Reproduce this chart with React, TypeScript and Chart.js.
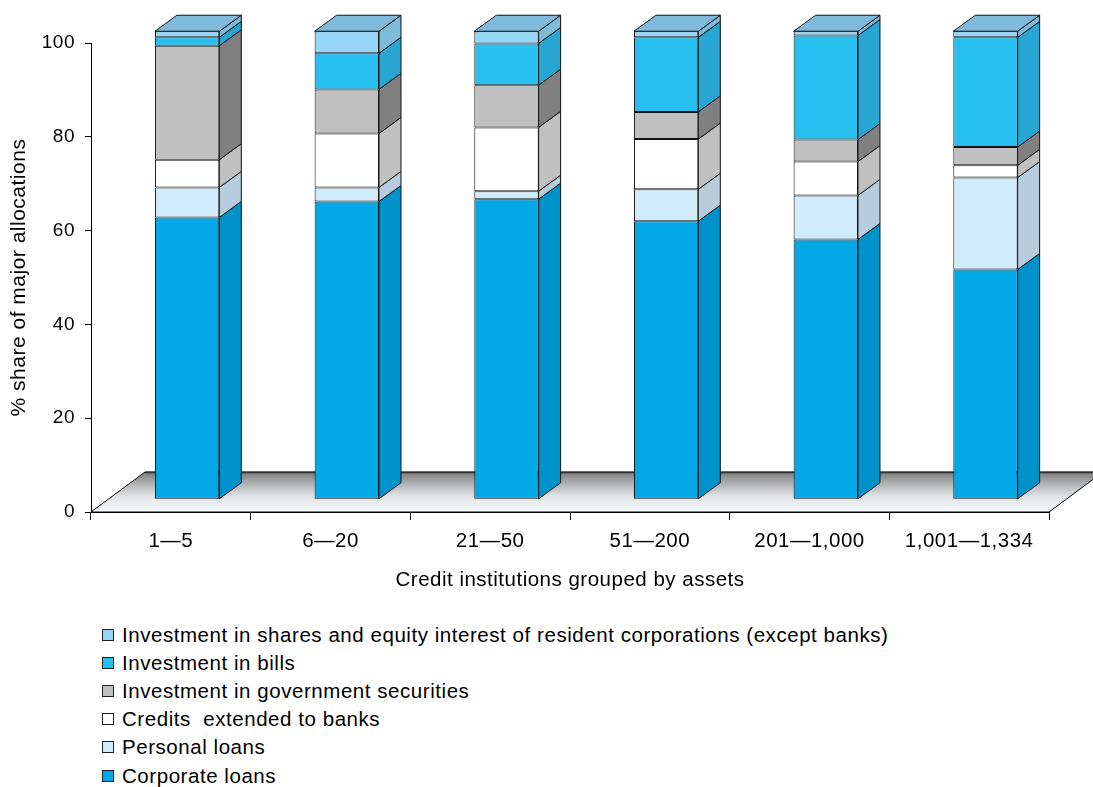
import React, { useEffect, useRef } from 'react';
import { Chart, registerables } from 'chart.js';

Chart.register(...registerables);

// ---- data ----
const categories = ['1\u20145', '6\u201420', '21\u201450', '51\u2014200', '201\u20141,000', '1,001\u20141,334'];
const corporateLoans = [60.1, 63.5, 64.0, 59.3, 55.4, 49.0];
const personalLoans = [6.4, 3.0, 1.7, 6.8, 9.4, 19.6];
const creditsToBanks = [5.9, 11.5, 13.6, 10.7, 7.2, 2.6];
const govSecurities = [24.3, 9.4, 9.0, 5.8, 4.7, 3.9];
const bills = [1.8, 7.7, 8.9, 15.9, 22.2, 23.4];
const shares = [1.3, 4.7, 2.6, 1.3, 0.9, 1.3];
const yTicks = [0, 20, 40, 60, 80, 100];

const seriesNames = [
  'Corporate loans',
  'Personal loans',
  'Credits  extended to banks',
  'Investment in government securities',
  'Investment in bills',
  'Investment in shares and equity interest of resident corporations (except banks)',
];
const seriesValues = [corporateLoans, personalLoans, creditsToBanks, govSecurities, bills, shares];
const frontColors = ['#00A8E8', '#D0EBFB', '#FFFFFF', '#C0C0C0', '#27BFEF', '#95D5F7'];
const sideColors = ['#0093CB', '#B5CDDF', '#C0C0C0', '#808080', '#27A6D3', '#80BAD9'];
const topColor = '#7FBADA';

const FONT = '"Liberation Sans", Arial, Helvetica, sans-serif';

const SHIFT_X = 16.3;
const SHIFT_Y = 12.7;
const BAR_DX = 22;
const BAR_DY = 16;
const FLOOR_DX = 54;
const FLOOR_DY = 40;

const spacing = {
  id: 'spacing',
  beforeDraw(chart: any) {
    (chart.ctx as any).letterSpacing = '0.5px';
  },
};

const bars3d = {
  id: 'bars3d',
  beforeDatasetsDraw(chart: any) {
    const { ctx, chartArea, scales } = chart;
    const y0 = scales.y.getPixelForValue(0);
    const l = chartArea.left;
    const r = chartArea.right;
    ctx.save();
    const g = ctx.createLinearGradient(0, y0 - FLOOR_DY, 0, y0);
    g.addColorStop(0, '#7a7a7a');
    g.addColorStop(0.25, '#a9aaab');
    g.addColorStop(0.6, '#dfe2e5');
    g.addColorStop(1, '#f8fbfd');
    ctx.beginPath();
    ctx.moveTo(l, y0);
    ctx.lineTo(l + FLOOR_DX, y0 - FLOOR_DY);
    ctx.lineTo(r + FLOOR_DX, y0 - FLOOR_DY);
    ctx.lineTo(r, y0);
    ctx.closePath();
    ctx.fillStyle = g;
    ctx.fill();
    ctx.strokeStyle = '#000';
    ctx.lineWidth = 1;
    ctx.beginPath();
    ctx.moveTo(l, y0);
    ctx.lineTo(l + FLOOR_DX, y0 - FLOOR_DY);
    ctx.lineTo(r + FLOOR_DX, y0 - FLOOR_DY);
    ctx.moveTo(r, y0);
    ctx.lineTo(r + FLOOR_DX, y0 - FLOOR_DY);
    ctx.moveTo(l, y0);
    ctx.lineTo(r, y0);
    ctx.stroke();
    ctx.strokeStyle = '#333';
    ctx.lineWidth = 1.5;
    ctx.beginPath();
    ctx.moveTo(l + FLOOR_DX, y0 - FLOOR_DY + 0.5);
    ctx.lineTo(r + FLOOR_DX, y0 - FLOOR_DY + 0.5);
    ctx.stroke();
    ctx.restore();
    ctx.save();
    ctx.translate(SHIFT_X, -SHIFT_Y);
  },
  afterDatasetsDraw(chart: any) {
    const { ctx } = chart;
    const n = chart.data.datasets.length;
    ctx.lineWidth = 1;
    ctx.strokeStyle = '#111';
    ctx.lineJoin = 'round';
    for (let di = 0; di < n; di++) {
      const meta = chart.getDatasetMeta(di);
      meta.data.forEach((bar: any) => {
        const p = bar.getProps(['x', 'y', 'base', 'width'], true);
        const L = p.x - p.width / 2;
        const R = p.x + p.width / 2;
        const top = Math.min(p.y, p.base);
        const bot = Math.max(p.y, p.base);
        ctx.beginPath();
        ctx.moveTo(R, top);
        ctx.lineTo(R + BAR_DX, top - BAR_DY);
        ctx.lineTo(R + BAR_DX, bot - BAR_DY);
        ctx.lineTo(R, bot);
        ctx.closePath();
        ctx.fillStyle = sideColors[di];
        ctx.fill();
        ctx.stroke();
        if (di === n - 1) {
          ctx.beginPath();
          ctx.moveTo(L, top);
          ctx.lineTo(L + BAR_DX, top - BAR_DY);
          ctx.lineTo(R + BAR_DX, top - BAR_DY);
          ctx.lineTo(R, top);
          ctx.closePath();
          ctx.fillStyle = topColor;
          ctx.fill();
          ctx.stroke();
        }
      });
    }
    ctx.restore();
  },
};

export default function App() {
  const ref = useRef<HTMLCanvasElement>(null);

  useEffect(() => {
    if (!ref.current) return;
    const chart = new Chart(ref.current, {
      type: 'bar',
      data: {
        labels: categories,
        datasets: seriesValues.map((vals, i) => ({
          label: seriesNames[i],
          data: vals,
          backgroundColor: frontColors[i],
          borderColor: '#111',
          borderWidth: 1,
          borderSkipped: false,
          categoryPercentage: 1,
          barPercentage: 0.403,
          clip: false,
        })) as any,
      },
      options: {
        animation: false,
        responsive: false,
        maintainAspectRatio: false,
        devicePixelRatio: 1,
        events: [],
        layout: { padding: { top: 43, right: 44, left: 0, bottom: 0 } },
        plugins: {
          legend: { display: false },
          tooltip: { enabled: false },
        },
        scales: {
          x: {
            stacked: true,
            offset: true,
            grid: { display: true, drawOnChartArea: false, drawTicks: true, tickLength: 8, color: '#000', offset: true },
            border: { display: true, color: '#000', width: 1 },
            ticks: { color: '#000', font: { family: FONT, size: 20.5 }, padding: 9, maxRotation: 0, autoSkip: false },
            title: {
              display: true,
              text: 'Credit institutions grouped by assets',
              color: '#000',
              font: { family: FONT, size: 20.5 },
              padding: { top: 0, bottom: 17 },
            },
            afterFit: (s: any) => { s.height = 98; },
          },
          y: {
            stacked: true,
            min: 0,
            max: 100,
            afterBuildTicks: (s: any) => { s.ticks = yTicks.map((v) => ({ value: v })); },
            grid: { display: true, drawOnChartArea: false, drawTicks: true, tickLength: 6, color: '#000' },
            border: { display: true, color: '#000', width: 1 },
            ticks: { color: '#000', font: { family: FONT, size: 19 }, padding: 10 },
            title: {
              display: true,
              text: '% share of major allocations',
              color: '#000',
              font: { family: FONT, size: 21 },
              padding: { top: 7, bottom: 0 },
            },
            afterFit: (s: any) => { s.width = 91; },
          },
        },
      },
      plugins: [spacing, bars3d],
    });
    return () => chart.destroy();
  }, []);

  const legendOrder = [5, 4, 3, 2, 1, 0];

  return (
    <div style={{ position: 'absolute', left: 0, top: 0, width: 1093, height: 787, background: '#fff', overflow: 'hidden' }}>
      <canvas ref={ref} width={1093} height={610} style={{ position: 'absolute', left: 0, top: 0, width: 1093, height: 610 }} />
      <div style={{ position: 'absolute', left: 102, top: 620.6, fontFamily: FONT, fontSize: 20.5, letterSpacing: '0.55px', color: '#000' }}>
        {legendOrder.map((i) => (
          <div key={i} style={{ display: 'flex', alignItems: 'center', height: 28.2, whiteSpace: 'pre' }}>
            <span
              style={{
                display: 'inline-block',
                width: 10,
                height: 10,
                border: '1px solid #222',
                background: frontColors[i],
                marginRight: 8,
                flex: 'none',
              }}
            />
            <span>{seriesNames[i]}</span>
          </div>
        ))}
      </div>
    </div>
  );
}
